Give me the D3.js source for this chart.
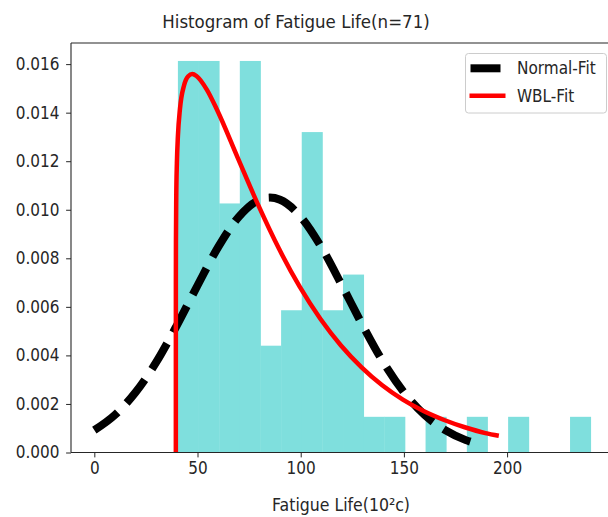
<!DOCTYPE html>
<html>
<head>
<meta charset="utf-8">
<script src="https://cdn.jsdelivr.net/npm/d3@7"></script>
<style>
  html, body { margin: 0; padding: 0; background: #ffffff; }
  svg { display: block; }
  text { font-family: "DejaVu Sans", sans-serif; fill: #262626; }
</style>
</head>
<body>
<svg id="chart" width="608" height="517"></svg>
<script>
// Histogram bins (fatigue life, 10^2 cycles) and their density heights
const binEdges = [40.5, 50.5, 60.5, 70.5, 80.5, 90.5, 100.5, 110.5, 120.5, 130.5, 140.5,
                  150.5, 160.5, 170.5, 180.5, 190.5, 200.5, 210.5, 220.5, 230.5, 240.5];
const binDensity = [0.01613, 0.01613, 0.01026, 0.01613, 0.0044, 0.00586, 0.0132, 0.00586, 0.00733, 0.00147,
                    0.00147, 0, 0.00147, 0, 0.00147, 0, 0.00147, 0, 0, 0.00147];

// Normal fit curve
const normalX = [0, 10, 20, 30, 40, 50, 60, 70, 80, 85, 90, 100, 110, 120, 130, 140, 150, 160, 170, 180, 188];
const normalY = [0.00092, 0.00155, 0.00248, 0.00372, 0.00524, 0.00688, 0.00846, 0.00971, 0.01041, 0.0105,
                 0.01041, 0.00971, 0.00846, 0.00688, 0.00524, 0.00372, 0.00248, 0.00155, 0.00092, 0.00051, 0.00031];

// Weibull fit curve
const wblX = [39.5, 39.51, 39.55, 39.7, 40.0, 40.5, 41.5, 43.5, 45.5, 47.5, 49.5, 54.5, 59.5, 69.5, 79.5,
              89.5, 99.5, 109.5, 119.5, 129.5, 139.5, 149.5, 159.5, 169.5, 179.5, 189.5, 196];
const wblY = [0, 0.00692, 0.00867, 0.01051, 0.01191, 0.01303, 0.01416, 0.01513, 0.0155, 0.01559, 0.01551,
              0.01495, 0.01411, 0.01214, 0.01018, 0.00839, 0.00683, 0.00551, 0.00441, 0.00351, 0.00277,
              0.00218, 0.00171, 0.00134, 0.00104, 0.0008, 0.00069];

const xTicks = [0, 50, 100, 150, 200];
const yTicks = [0, 0.002, 0.004, 0.006, 0.008, 0.010, 0.012, 0.014, 0.016];

const titleText = "Histogram of Fatigue Life(n=71)";
const xLabelText = "Fatigue Life(10²c)";
const legendLabels = ["Normal-Fit", "WBL-Fit"];

const svg = d3.select("#chart");
svg.append("rect").attr("width", 608).attr("height", 517).attr("fill", "#ffffff");

const plot = { left: 71, right: 620.6, top: 43, bottom: 452.5 };
const x = d3.scaleLinear().domain([-11.3, 255]).range([plot.left, plot.right]);
const y = d3.scaleLinear().domain([0, 0.01687]).range([plot.bottom, plot.top]);
const SX = 0.9; // glyph width factor

// bars
const bins = binDensity.map((d, i) => ({ x0: binEdges[i], x1: binEdges[i + 1], d }));
svg.append("g").selectAll("rect").data(bins).join("rect")
  .attr("x", b => x(b.x0))
  .attr("width", b => x(b.x1) - x(b.x0) + 0.4)
  .attr("y", b => y(b.d))
  .attr("height", b => y(0) - y(b.d))
  .attr("fill", "#7fdfdd");

// fit curves
const line = d3.line().x(d => x(d[0])).y(d => y(d[1])).curve(d3.curveMonotoneX);
svg.append("path")
  .attr("d", line(normalX.map((v, i) => [v, normalY[i]])))
  .attr("fill", "none").attr("stroke", "#000000").attr("stroke-width", 8)
  .attr("stroke-dasharray", "29.6,12.8");
svg.append("path")
  .attr("d", line(wblX.map((v, i) => [v, wblY[i]])))
  .attr("fill", "none").attr("stroke", "#ff0000").attr("stroke-width", 4.5);

// axes
const xAxis = svg.append("g").attr("transform", `translate(0,${plot.bottom})`)
  .call(d3.axisBottom(x).tickValues(xTicks).tickSize(4.9).tickSizeOuter(0).tickFormat(d3.format("d")));
const yAxis = svg.append("g").attr("transform", `translate(${plot.left},0)`)
  .call(d3.axisLeft(y).tickValues(yTicks).tickSize(4.9).tickSizeOuter(0).tickFormat(d3.format(".3f")));
[xAxis, yAxis].forEach(g => {
  g.select(".domain").remove();
  g.selectAll(".tick line").attr("stroke", "#262626").attr("stroke-width", 1);
  g.selectAll(".tick text").attr("font-size", 17).style("font-family", "DejaVu Sans").attr("fill", "#262626");
});
xAxis.selectAll(".tick text").attr("y", 9.5).attr("dy", "0.71em").attr("transform", `scale(${SX},1)`);
yAxis.selectAll(".tick text").attr("x", -11.5 / SX).attr("dy", "0.32em").attr("transform", `scale(${SX},1)`);

// spines (left, bottom, top; right runs past the canvas edge)
const spine = svg.append("g").attr("stroke", "#262626").attr("stroke-width", 1.1).attr("fill", "none");
spine.append("line").attr("x1", plot.left).attr("x2", plot.left).attr("y1", plot.top).attr("y2", plot.bottom);
spine.append("line").attr("x1", plot.left).attr("x2", plot.right).attr("y1", plot.bottom).attr("y2", plot.bottom);
spine.append("line").attr("x1", plot.left).attr("x2", plot.right).attr("y1", plot.top).attr("y2", plot.top);
spine.append("line").attr("x1", plot.right).attr("x2", plot.right).attr("y1", plot.top).attr("y2", plot.bottom);

// title and axis label
svg.append("text").attr("transform", `translate(296,28) scale(${SX},1)`)
  .attr("text-anchor", "middle").attr("font-size", 18.5).text(titleText);
svg.append("text").attr("transform", `translate(341,511) scale(${SX},1)`)
  .attr("text-anchor", "middle").attr("font-size", 17.5).text(xLabelText);

// legend
const leg = svg.append("g");
leg.append("rect").attr("x", 465.5).attr("y", 53.5).attr("width", 141).attr("height", 59.5)
  .attr("rx", 3).attr("fill", "#ffffff").attr("fill-opacity", 0.8).attr("stroke", "#cccccc").attr("stroke-width", 1);
leg.append("line").attr("x1", 470.5).attr("x2", 500.5).attr("y1", 68.3).attr("y2", 68.3)
  .attr("stroke", "#000000").attr("stroke-width", 8);
leg.append("line").attr("x1", 469.5).attr("x2", 505.5).attr("y1", 95.7).attr("y2", 95.7)
  .attr("stroke", "#ff0000").attr("stroke-width", 4.5);
legendLabels.forEach((t, i) => {
  leg.append("text").attr("transform", `translate(517,${68.3 + i * 27.4}) scale(${SX},1)`)
    .attr("dy", "0.36em").attr("font-size", 17).text(t);
});
</script>
</body>
</html>
